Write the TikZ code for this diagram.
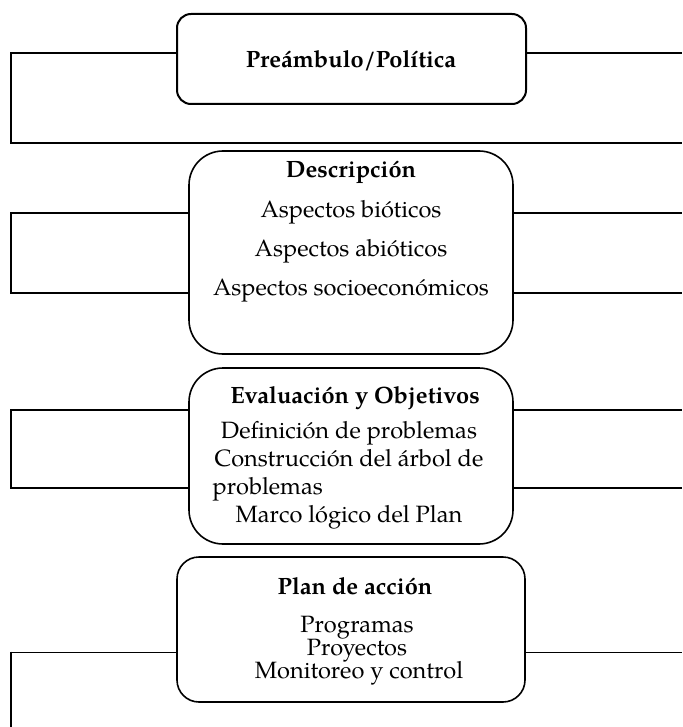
\documentclass[tikz,border=0pt]{standalone}
\usepackage{fontspec}
\setmainfont{texgyrepagella}[Extension=.otf,UprightFont=*-regular,BoldFont=*-bold,ItalicFont=*-italic,BoldItalicFont=*-bolditalic]
\usetikzlibrary{positioning,calc}

\begin{document}
\begin{tikzpicture}[x=0.5pt,y=-0.5pt,
  every node/.style={align=center,inner sep=0pt,font=\fontsize{11.8}{14}\selectfont},%
  bx/.style={draw,line width=0.8pt,rounded corners=#1},%
  bx/.default=8pt,%
  tx/.style={text height=8.5pt,text depth=2.5pt},%
  hd/.style={tx,font=\fontsize{11.8}{14}\selectfont\bfseries},%
  ln/.style={line width=1pt},%
  lnt/.style={line width=0.5pt},%
  ]
  \useasboundingbox (0,0) rectangle (682,727);

  % boxes
  \node (pre) [bx=7pt,line width=1pt,minimum width=174.5pt,minimum height=45pt] at (351.5,59) {};
  \node (des) [bx=17pt,minimum width=162pt,minimum height=101.5pt] at (351,252.5) {};
  \node (eva) [bx=17pt,minimum width=162pt,minimum height=88pt] at (351,456) {};
  \node (plan) [bx=11pt,minimum width=174pt,minimum height=72.5pt] at (351,629.5) {};

  % texts
  \node (preT) [hd] at (351,62) {Preámbulo/Política};

  \node (desT) [hd] at (351,172) {Descripción};
  \node (bio) [tx,below=8.5pt of desT] {Aspectos bióticos};
  \node (abio) [tx,below=8pt of bio] {Aspectos abióticos};
  \node (soc) [tx,below=8pt of abio] {Aspectos socioeconómicos};

  \node (evaT) [hd] at (355,397) {Evaluación y Objetivos};
  \node (def) [tx,below=6.5pt of evaT,xshift=-3pt] {Definición de problemas};
  \node (arb) [tx,below=2.5pt of def] {Construcción del árbol de};
  \node (prob) [tx,below right=2.5pt and -1pt of arb.south west] {problemas};
  \coordinate (mk) at (prob.south -| arb.south);
  \node (marco) [tx,below=2.5pt of mk] {Marco lógico del Plan};

  \node (planT) [hd] at (355,588) {Plan de acción};
  \node (prog) [tx,below=8pt of planT,xshift=1pt] {Programas};
  \node (proy) [tx,below=0pt of prog] {Proyectos};
  \node (mon) [tx,below=0pt of proy,xshift=1pt] {Monitoreo y control};

  % brackets
  \coordinate (a1) at (11,53);
  \coordinate (b1) at (11,143);
  \coordinate (c1) at (682,143);
  \coordinate (d1) at (682,53);
  \draw [ln] (pre.west |- a1) -- (a1) -- (b1) -- (c1);
  \draw [ln] (pre.east |- d1) -- (d1);

  \coordinate (a2) at (11,213);
  \coordinate (b2) at (11,293);
  \coordinate (c2) at (682,213);
  \coordinate (d2) at (682,293);
  \draw [ln] (des.west |- a2) -- (a2) -- (b2) -- (des.west |- b2);
  \draw [ln] (des.east |- c2) -- (c2);
  \draw [ln] (des.east |- d2) -- (d2);

  \coordinate (a3) at (11,410);
  \coordinate (b3) at (11,488);
  \coordinate (c3) at (682,410);
  \coordinate (d3) at (682,488);
  \draw [ln] (eva.west |- a3) -- (a3) -- (b3) -- (eva.west |- b3);
  \draw [ln] (eva.east |- c3) -- (c3);
  \draw [ln] (eva.east |- d3) -- (d3);

  \coordinate (a4) at (11,652);
  \coordinate (b4) at (11,727);
  \coordinate (c4) at (682,652);
  \draw [lnt] (plan.west |- a4) -- (a4);
  \draw [ln] ([yshift=0.25pt]a4) -- (b4);
  \draw [lnt] (plan.east |- c4) -- (c4);
\end{tikzpicture}
\end{document}
